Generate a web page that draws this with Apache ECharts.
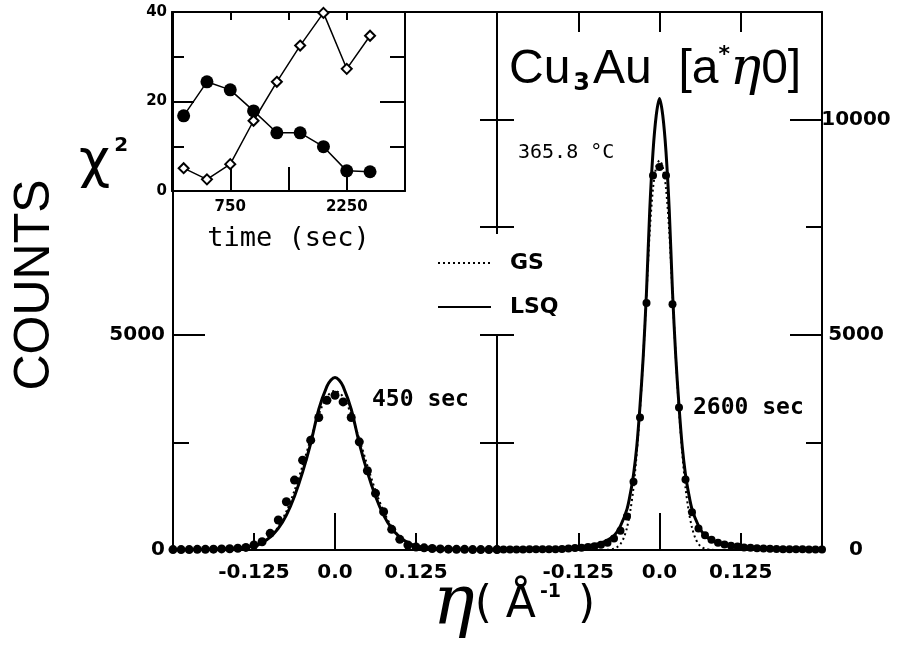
<!DOCTYPE html>
<html><head><meta charset="utf-8">
<script src="https://cdn.jsdelivr.net/npm/echarts@6/dist/echarts.min.js"></script>
<style>html,body{margin:0;padding:0;background:#fff}#c{width:905px;height:646px}</style>
</head><body><div id="c"></div>
<script>
// ---- data: left panel (450 sec), eta step 0.0125 ----
const etaLeft = [-0.25,-0.2375,-0.225,-0.2125,-0.2,-0.1875,-0.175,-0.1625,-0.15,-0.1375,-0.125,-0.1125,-0.1,-0.0875,-0.075,-0.0625,-0.05,-0.0375,-0.025,-0.0125,0,0.0125,0.025,0.0375,0.05,0.0625,0.075,0.0875,0.1,0.1125,0.125,0.1375,0.15,0.1625,0.175,0.1875,0.2,0.2125,0.225,0.2375,0.25];
const countsLeft = [10,10,10,15,15,20,25,30,40,60,116,193,387,696,1120,1624,2088,2552,3079,3480,3596,3441,3079,2513,1840,1316,889,480,248,116,70,50,35,25,20,15,15,10,10,10,10];
// ---- data: right panel (2600 sec), eta step 0.01 ----
const etaRight = [-0.25,-0.24,-0.23,-0.22,-0.21,-0.2,-0.19,-0.18,-0.17,-0.16,-0.15,-0.14,-0.13,-0.12,-0.11,-0.1,-0.09,-0.08,-0.07,-0.06,-0.05,-0.04,-0.03,-0.02,-0.01,0,0.01,0.02,0.03,0.04,0.05,0.06,0.07,0.08,0.09,0.1,0.11,0.12,0.13,0.14,0.15,0.16,0.17,0.18,0.19,0.2,0.21,0.22,0.23,0.24,0.25];
const countsRight = [10,10,10,10,10,15,15,15,20,20,25,35,45,55,70,90,120,170,270,450,780,1585,3080,5740,8700,8900,8700,5710,3310,1640,875,500,340,240,170,130,100,80,60,50,40,35,30,25,20,20,15,15,10,10,10];
// ---- fitted curves ----
const lsqLeftEta = [-0.25,-0.2,-0.175,-0.15,-0.125,-0.1125,-0.1,-0.0875,-0.075,-0.0625,-0.05,-0.0375,-0.025,-0.0125,-0.00625,0,0.00625,0.0125,0.025,0.0375,0.05,0.0625,0.075,0.0875,0.1,0.1125,0.125,0.15,0.175,0.2,0.25];
const lsqLeftVal = [8,15,25,45,100,175,300,500,810,1250,1810,2480,3270,3800,3950,4010,3950,3800,3270,2480,1810,1250,810,500,300,175,100,45,25,15,8];
const gsLeftEta = [-0.25,-0.2,-0.175,-0.15,-0.1375,-0.125,-0.1125,-0.1,-0.0875,-0.075,-0.0625,-0.05,-0.0375,-0.025,-0.0125,0,0.0125,0.025,0.0375,0.05,0.0625,0.075,0.0875,0.1,0.1125,0.125,0.1375,0.15,0.175,0.2,0.25];
const gsLeftVal = [0,2,4,12,30,70,150,300,540,900,1380,1960,2580,3150,3560,3700,3560,3150,2580,1960,1380,900,540,300,150,70,30,12,4,2,0];
const lsqRightEta = [-0.25,-0.2,-0.175,-0.15,-0.125,-0.1,-0.09,-0.08,-0.07,-0.06,-0.05,-0.045,-0.04,-0.035,-0.03,-0.025,-0.02,-0.015,-0.01,-0.005,0,0.005,0.01,0.015,0.02,0.025,0.03,0.035,0.04,0.045,0.05,0.06,0.07,0.08,0.09,0.1,0.125,0.15,0.175,0.2,0.25];
const lsqRightVal = [12,20,30,45,70,125,165,230,330,560,950,1300,1750,2400,3350,4500,6000,7900,9250,10100,10490,10100,9250,7900,6000,4500,3350,2400,1750,1300,950,560,330,230,165,125,70,45,30,20,12];
const gsRightEta = [-0.25,-0.1,-0.08,-0.07,-0.065,-0.06,-0.055,-0.05,-0.045,-0.04,-0.035,-0.03,-0.025,-0.02,-0.015,-0.01,-0.005,0,0.005,0.01,0.015,0.02,0.025,0.03,0.035,0.04,0.045,0.05,0.055,0.06,0.065,0.07,0.08,0.1,0.25];
const gsRightVal = [0,0,5,30,70,140,280,520,900,1450,2250,3250,4500,5950,7400,8400,8900,9050,8900,8400,7400,5950,4500,3250,2250,1450,900,520,280,140,70,30,5,0,0];
// ---- inset: chi^2 vs time ----
const timeSec = [150,450,750,1050,1350,1650,1950,2250,2550];
const chiFilled = [16.8,24.4,22.6,17.9,13.0,13.0,9.9,4.5,4.3];
const chiOpen = [5.1,2.6,6.0,15.7,24.4,32.5,39.8,27.3,34.7];
// ---- tick labels ----
const etaTickLabels = [[-0.125,'-0.125'],[0,'0.0'],[0.125,'0.125']];
const countLabelsLeft = [0,5000];
const countLabelsRight = [0,5000,10000];
const timeTickLabels = [750,2250];

const pair = (xs, ys) => xs.map((x, i) => [x, ys[i]]);
const fmtEta = v => { for (const [t, s] of etaTickLabels) if (Math.abs(v - t) < 1e-9) return s; return ''; };
const fmtList = list => v => list.some(t => Math.abs(v - t) < 1e-9) ? String(v) : '';

const BLK = '#000';
const line2 = {show: true, onZero: false, lineStyle: {color: BLK, width: 2}};
const noLine = {show: false, onZero: false};
const tick = (len) => ({show: true, inside: true, length: len, lineStyle: {color: BLK, width: 2}});
const lbl = {fontFamily: 'DejaVu Sans', fontWeight: 'bold', fontSize: 20, color: BLK};
const noSplit = {show: false};

const chart = echarts.init(document.getElementById('c'), null, {renderer: 'canvas'});
const option = {
  animation: false,
  backgroundColor: '#fff',
  grid: [
    {left: 173, top: 12, width: 324, height: 538},
    {left: 497, top: 12, width: 325, height: 538},
    {left: 172, top: 12, width: 233, height: 179}
  ],
  xAxis: [
    {gridIndex: 0, type: 'value', position: 'bottom', min: -0.25, max: 0.25, interval: 0.125, axisLine: line2, axisTick: tick(17), axisLabel: Object.assign({formatter: fmtEta, margin: 13}, lbl), splitLine: noSplit},
    {gridIndex: 0, type: 'value', position: 'bottom', min: -0.25, max: 0.25, interval: 0.25, axisLine: noLine, axisTick: tick(37), axisLabel: {show: false}, splitLine: noSplit},
    {gridIndex: 0, type: 'value', position: 'top', min: -0.25, max: 0.25, interval: 0.125, axisLine: line2, axisTick: {show: false}, axisLabel: {show: false}, splitLine: noSplit},
    {gridIndex: 1, type: 'value', position: 'bottom', min: -0.25, max: 0.25, interval: 0.125, axisLine: line2, axisTick: tick(17), axisLabel: Object.assign({formatter: fmtEta, margin: 13}, lbl), splitLine: noSplit},
    {gridIndex: 1, type: 'value', position: 'bottom', min: -0.25, max: 0.25, interval: 0.25, axisLine: noLine, axisTick: tick(37), axisLabel: {show: false}, splitLine: noSplit},
    {gridIndex: 1, type: 'value', position: 'top', min: -0.25, max: 0.25, interval: 0.125, axisLine: line2, axisTick: tick(20), axisLabel: {show: false}, splitLine: noSplit},
    {gridIndex: 2, type: 'value', position: 'bottom', min: 0, max: 3000, interval: 750, z: 3, axisLine: line2, axisTick: tick(24),
      axisLabel: {formatter: fmtList(timeTickLabels), margin: 9, fontFamily: 'DejaVu Sans', fontWeight: 'bold', fontSize: 15, color: BLK},
      name: 'time (sec)', nameLocation: 'middle', nameGap: 34, nameTextStyle: {fontFamily: 'DejaVu Sans Mono', fontSize: 27, color: BLK}, splitLine: noSplit},
    {gridIndex: 2, type: 'value', position: 'top', min: 0, max: 3000, interval: 750, z: 3, axisLine: line2, axisTick: tick(8), axisLabel: {show: false}, splitLine: noSplit}
  ],
  yAxis: [
    {gridIndex: 0, type: 'value', position: 'left', min: 0, max: 12500, interval: 5000, axisLine: line2, axisTick: tick(32), axisLabel: Object.assign({formatter: fmtList(countLabelsLeft), margin: 8}, lbl), splitLine: noSplit},
    {gridIndex: 0, type: 'value', position: 'left', min: 0, max: 12500, interval: 2500, axisLine: noLine, axisTick: tick(16), axisLabel: {show: false}, splitLine: noSplit},
    {gridIndex: 0, type: 'value', position: 'right', min: 0, max: 12500, interval: 2500, axisLine: line2, axisTick: tick(17), axisLabel: {show: false}, splitLine: noSplit},
    {gridIndex: 1, type: 'value', position: 'left', min: 0, max: 12500, interval: 2500, axisLine: line2, axisTick: tick(17), axisLabel: {show: false}, splitLine: noSplit},
    {gridIndex: 1, type: 'value', position: 'right', min: 0, max: 12500, interval: 5000, axisLine: line2, axisTick: tick(32), axisLabel: Object.assign({formatter: fmtList(countLabelsRight), margin: 34, align: 'center'}, lbl), splitLine: noSplit},
    {gridIndex: 1, type: 'value', position: 'right', min: 0, max: 12500, interval: 2500, axisLine: noLine, axisTick: tick(16), axisLabel: {show: false}, splitLine: noSplit},
    {gridIndex: 2, type: 'value', position: 'left', min: 0, max: 40, interval: 20, z: 3, axisLine: line2, axisTick: tick(22),
      minorTick: {show: true, splitNumber: 2, length: 12, lineStyle: {color: BLK, width: 2}},
      axisLabel: {margin: 5, fontFamily: 'DejaVu Sans', fontWeight: 'bold', fontSize: 15, color: BLK}, splitLine: noSplit, minorSplitLine: {show: false}},
    {gridIndex: 2, type: 'value', position: 'right', min: 0, max: 40, interval: 20, z: 3, axisLine: line2, axisTick: tick(25),
      minorTick: {show: true, splitNumber: 2, length: 15, lineStyle: {color: BLK, width: 2}},
      axisLabel: {show: false}, splitLine: noSplit, minorSplitLine: {show: false}}
  ],
  legend: {
    left: 425, top: 234, orient: 'vertical', backgroundColor: '#fff', padding: [18, 12, 16, 12],
    itemWidth: 53, itemHeight: 14, itemGap: 22,
    data: ['GS', 'LSQ'],
    itemStyle: {opacity: 0},
    textStyle: {fontFamily: 'DejaVu Sans', fontWeight: 'bold', fontSize: 22, color: BLK, padding: [0, 0, 0, 14]}
  },
  series: [
    {name: 'GS', type: 'line', xAxisIndex: 0, yAxisIndex: 0, data: pair(gsLeftEta, gsLeftVal), symbol: 'none', smooth: 0.3, lineStyle: {color: BLK, width: 2, type: [2, 3]}, itemStyle: {color: BLK}},
    {name: 'LSQ', type: 'line', xAxisIndex: 0, yAxisIndex: 0, data: pair(lsqLeftEta, lsqLeftVal), symbol: 'none', smooth: 0.3, lineStyle: {color: BLK, width: 3}, itemStyle: {color: BLK}},
    {name: 'data450', type: 'scatter', xAxisIndex: 0, yAxisIndex: 0, data: pair(etaLeft, countsLeft), symbol: 'circle', symbolSize: 9, itemStyle: {color: BLK, opacity: 1}},
    {name: 'GS', type: 'line', xAxisIndex: 3, yAxisIndex: 4, data: pair(gsRightEta, gsRightVal), symbol: 'none', smooth: 0.3, lineStyle: {color: BLK, width: 2, type: [2, 3]}, itemStyle: {color: BLK}},
    {name: 'LSQ', type: 'line', xAxisIndex: 3, yAxisIndex: 4, data: pair(lsqRightEta, lsqRightVal), symbol: 'none', smooth: 0.3, lineStyle: {color: BLK, width: 3}, itemStyle: {color: BLK}},
    {name: 'data2600', type: 'scatter', xAxisIndex: 3, yAxisIndex: 4, data: pair(etaRight, countsRight), symbol: 'circle', symbolSize: 8, itemStyle: {color: BLK, opacity: 1}},
    {name: 'chiFilled', type: 'line', xAxisIndex: 6, yAxisIndex: 6, z: 5, data: pair(timeSec, chiFilled), symbol: 'circle', symbolSize: 13, itemStyle: {color: BLK}, lineStyle: {color: BLK, width: 1.5}},
    {name: 'chiOpen', type: 'line', xAxisIndex: 6, yAxisIndex: 6, z: 5, data: pair(timeSec, chiOpen), symbol: 'diamond', symbolSize: 10, itemStyle: {color: '#fff', borderColor: BLK, borderWidth: 2}, lineStyle: {color: BLK, width: 1.5}}
  ],
  graphic: [
    {type: 'rect', z: 1, shape: {x: 174, y: 13, width: 231, height: 245}, style: {fill: '#fff'}},
    {type: 'text', z: 6, x: 35, y: 285, rotation: Math.PI / 2,
      style: {text: 'COUNTS', fontFamily: 'Liberation Sans', fontSize: 50, fill: BLK, align: 'center', verticalAlign: 'middle'}},
    {type: 'text', z: 6, x: 79, y: 163,
      style: {text: '{c|χ}{s|2}', align: 'left', verticalAlign: 'middle',
        rich: {c: {fontFamily: 'DejaVu Sans', fontSize: 54, fill: BLK}, s: {fontFamily: 'DejaVu Sans', fontWeight: 'bold', fontSize: 20, fill: BLK, verticalAlign: 'top', padding: [0, 0, 22, 4]}}}},
    {type: 'text', z: 6, x: 509, y: 70,
      style: {text: '{n|Cu}{sub|3}{n|Au  [a}{sup|*}{e|η}{n|0]}', align: 'left', verticalAlign: 'middle',
        rich: {n: {fontFamily: 'Liberation Sans', fontSize: 48, fill: BLK},
               sub: {fontFamily: 'DejaVu Sans', fontWeight: 'bold', fontSize: 24, fill: BLK, verticalAlign: 'bottom', padding: [16, 3, 0, 3]},
               sup: {fontFamily: 'DejaVu Sans', fontWeight: 'bold', fontSize: 22, fill: BLK, verticalAlign: 'top', padding: [0, 0, 16, 0]},
               e: {fontFamily: 'DejaVu Serif', fontStyle: 'italic', fontSize: 52, fill: BLK}}}},
    {type: 'text', z: 6, x: 518, y: 153,
      style: {text: '365.8 °C', fontFamily: 'DejaVu Sans Mono', fontSize: 20, fill: BLK, align: 'left', verticalAlign: 'middle'}},
    {type: 'text', z: 6, x: 372, y: 400,
      style: {text: '450 sec', fontFamily: 'DejaVu Sans Mono', fontWeight: 'bold', fontSize: 23, fill: BLK, align: 'left', verticalAlign: 'middle'}},
    {type: 'text', z: 6, x: 693, y: 408,
      style: {text: '2600 sec', fontFamily: 'DejaVu Sans Mono', fontWeight: 'bold', fontSize: 23, fill: BLK, align: 'left', verticalAlign: 'middle'}},
    {type: 'text', z: 6, x: 514, y: 606,
      style: {text: '{e|η}{p|( \u00C5}{s|-1}{p| )}', align: 'center', verticalAlign: 'middle',
        rich: {e: {fontFamily: 'DejaVu Serif', fontStyle: 'italic', fontSize: 70, fill: BLK},
               p: {fontFamily: 'DejaVu Sans', fontSize: 44, fill: BLK},
               s: {fontFamily: 'DejaVu Sans', fontWeight: 'bold', fontSize: 19, fill: BLK, verticalAlign: 'top', padding: [12, 3, 0, 4]}}}}
  ]
};
chart.setOption(option);
</script>
</body></html>
